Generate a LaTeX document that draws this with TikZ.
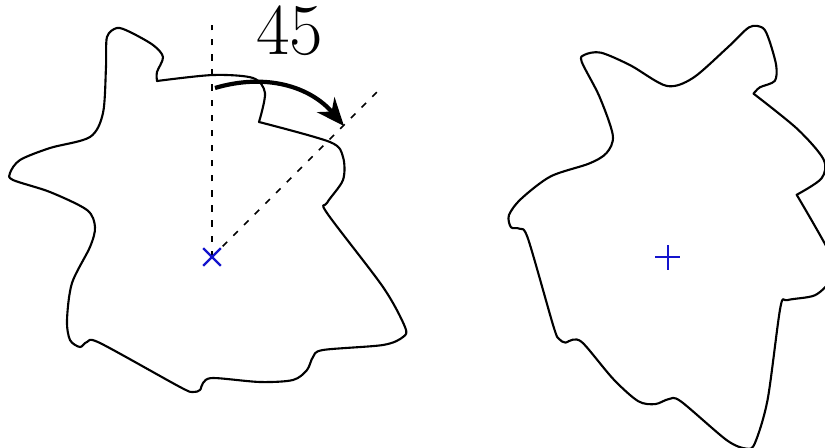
\documentclass[tikz,border=0pt]{standalone}
\usetikzlibrary{arrows.meta,positioning}
\definecolor{markblue}{RGB}{20,20,205}
\tikzset{
  >={Stealth[length=2.8mm,width=2.3mm,inset=0.9mm]},
  outline/.style={line width=0.6pt,line join=round},
  guide/.style={line width=0.45pt,dash pattern=on 1.8pt off 2.5pt},
  turn/.style={->,line width=1.2pt},
  % shapes
  pics/blob/.style={code={
    \draw[outline] plot[smooth] coordinates {(-0.55,1.76) (0.01,1.82) (0.41,1.79) (0.53,1.64) (0.47,1.35)}
      -- plot[smooth] coordinates {(0.47,1.35) (1.18,1.15) (1.31,1.00) (1.31,0.77) (1.15,0.54) (1.15,0.44)
        (1.71,-0.30) (1.93,-0.70) (1.91,-0.80) (1.71,-0.88) (1.11,-0.93) (1.01,-1.00) (0.95,-1.13)
        (0.81,-1.23) (0.48,-1.25) (0.01,-1.21) (-0.09,-1.26) (-0.12,-1.33) (-0.19,-1.35) (-0.32,-1.30)
        (-1.12,-0.86) (-1.25,-0.85) (-1.32,-0.90) (-1.42,-0.83) (-1.45,-0.63) (-1.40,-0.26) (-1.22,0.10)
        (-1.17,0.30) (-1.25,0.47) (-1.62,0.65) (-1.99,0.77) (-2.02,0.84) (-1.92,0.97) (-1.62,1.09)
        (-1.22,1.20) (-1.09,1.44) (-1.06,1.90) (-1.05,2.20) (-0.95,2.29) (-0.82,2.25) (-0.59,2.12)
        (-0.49,2.00) (-0.55,1.85) (-0.55,1.76)} -- cycle;
  }},
  pics/cross/.style={code={
    \draw[#1,line width=0.7pt] (-0.125,0) -- (0.125,0) (0,-0.125) -- (0,0.125);
  }},
  pics/cross/.default=markblue,
}

\begin{document}
\begin{tikzpicture}
  \clip (-2.12,-1.90) rectangle (6.13,2.57);
  \coordinate (pivot) at (0,0);
  \coordinate (turned) at (4.56,0);
  \coordinate (up) at (90:2.32);
  \coordinate (slant) at (45:2.37);
  \coordinate (from) at (0.03,1.69);
  \coordinate (to) at (1.32,1.31);

  \pic at (pivot) {blob};
  \pic[rotate=-45] at (turned) {blob};

  \draw[guide] (pivot) -- (up);
  \draw[guide] (pivot) -- (slant);
  \draw[turn] (from) to[bend left=33] (to);
  \node[font=\huge] (angle) at (0.78,2.26) {45};

  \pic[rotate=45] at (pivot) {cross};
  \pic at (turned) {cross};
\end{tikzpicture}
\end{document}
